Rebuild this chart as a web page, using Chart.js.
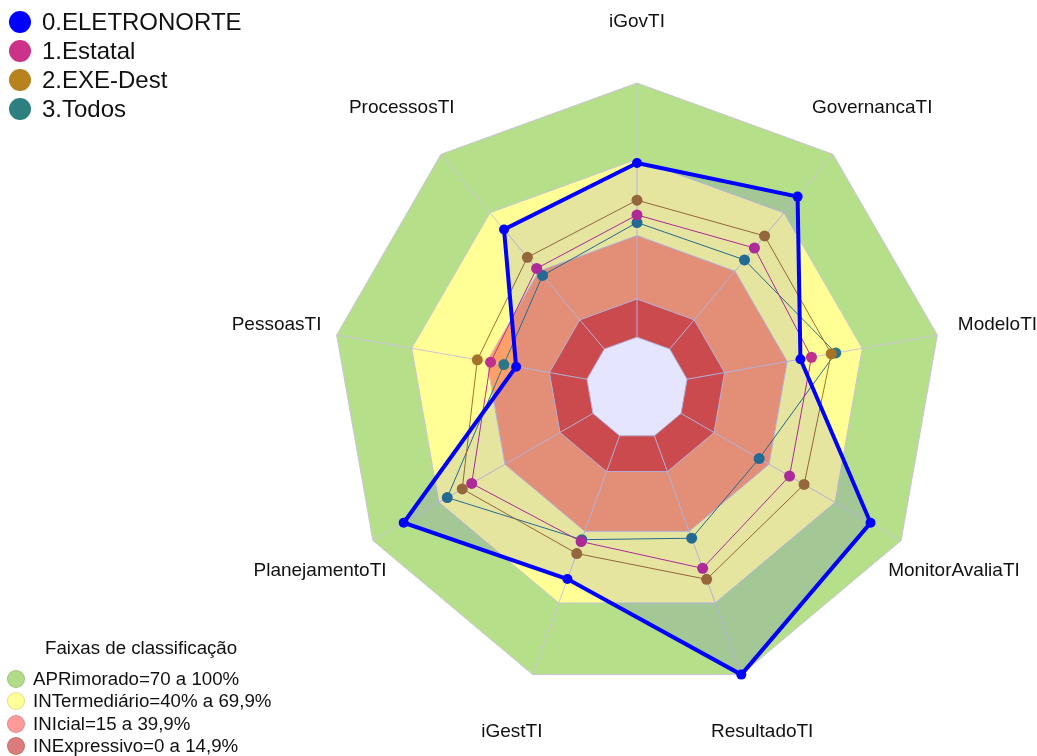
<!DOCTYPE html>
<html>
<head>
<meta charset="utf-8">
<script src="https://cdn.jsdelivr.net/npm/chart.js@4"></script>
<style>
  html, body { margin: 0; padding: 0; background: #fff; }
  body { width: 1037px; height: 756px; position: relative; overflow: hidden;
         font-family: "Liberation Sans", Arial, sans-serif; color: #111; }
  #radar { position: absolute; left: 0; top: 0; }
  .leg { position: absolute; left: 0; top: 0; }
  .row { position: absolute; display: flex; align-items: center; white-space: nowrap; }
  .dot { border-radius: 50%; flex: none; }
  #series .row { left: 9px; font-size: 24px; height: 29px; }
  #series .dot { width: 22px; height: 22px; margin-right: 11px; }
  #bands .row { left: 7px; font-size: 18.7px; height: 23px; }
  #bands .dot { width: 18px; height: 18px; margin-right: 8px; box-sizing: border-box; border: 1px solid rgba(0,0,0,0.12); }
  #bandTitle { position: absolute; left: 45px; top: 637px; font-size: 18.7px; white-space: nowrap; }
</style>
</head>
<body>
<canvas id="radar" width="1037" height="756"></canvas>
<div class="leg" id="series"></div>
<div class="leg" id="bands"><div id="bandTitle">Faixas de classificação</div></div>
<script>
// axes, clockwise from the top
const axisLabels = ['iGovTI', 'GovernancaTI', 'ModeloTI', 'MonitorAvaliaTI', 'ResultadoTI',
                    'iGestTI', 'PlanejamentoTI', 'PessoasTI', 'ProcessosTI'];

// series values (%)
const eletronorte = [68.5, 78.3, 45.3, 86.1, 100, 60.0, 86.0, 28.3, 61.4];
const estatal     = [48.1, 51.9, 49.7, 49.3, 55.5, 44.3, 55.1, 38.5, 41.4];
const exeDest     = [53.9, 58.1, 57.6, 55.9, 60.1, 49.3, 59.4, 43.8, 47.1];
const todos       = [45.1, 45.8, 59.4, 35.5, 42.9, 43.5, 66.2, 33.2, 37.8];

const seriesNames = ['0.ELETRONORTE', '1.Estatal', '2.EXE-Dest', '3.Todos'];

// classification bands (upper limit of each band, innermost last)
const bandLimits = [0, 15, 40, 70, 100];
const bandNames = ['APRimorado=70 a 100%', 'INTermediário=40% a 69,9%', 'INIcial=15 a 39,9%', 'INExpressivo=0 a 14,9%'];

const seriesColors = ['#0000ff', '#c0308e', '#a57328', '#2a7687'];
const seriesLegendColors = ['#0000ff', '#cc3388', '#b8821e', '#2e8080'];
const bandFill = ['#ffffff', '#e2533a', '#fd9f68', '#ffff96', '#b6df8a'];
const bandLegendColors = ['#b3dc88', '#ffff99', '#ff9a9a', '#dc7c7c'];
const gridColor = '#c9c5d6';

function seriesDataset(i, data) {
  const main = i === 0;
  return {
    label: seriesNames[i],
    data: data,
    borderColor: seriesColors[i],
    backgroundColor: main ? 'rgba(0,0,255,0.1)' : 'transparent',
    fill: main ? 'start' : false,
    borderWidth: main ? 4 : 1,
    pointRadius: main ? 5 : 5.5,
    pointBackgroundColor: seriesColors[i],
    pointBorderWidth: 0,
  };
}

// bands listed innermost first so the widest one is painted first (at the bottom)
const bandDatasets = bandLimits.map((v, k) => ({
  label: 'band' + v,
  data: axisLabels.map(() => v),
  borderColor: gridColor,
  borderWidth: 1,
  backgroundColor: bandFill[k],
  fill: 'start',
  pointRadius: 0,
}));

const HOLE_INDEX = 4; // dataset index of the value-0 band, drawn last among bands

// radial grid lines from 0 to 100, between the bands and the series
const spokes = {
  id: 'spokes',
  afterDatasetDraw(chart, args) {
    if (args.index !== HOLE_INDEX) return;
    const s = chart.scales.r;
    const ctx = chart.ctx;
    ctx.save();
    ctx.strokeStyle = gridColor;
    ctx.lineWidth = 1;
    for (let i = 0; i < axisLabels.length; i++) {
      const a = s.getPointPositionForValue(i, 0);
      const b = s.getPointPositionForValue(i, 100);
      ctx.beginPath();
      ctx.moveTo(a.x, a.y);
      ctx.lineTo(b.x, b.y);
      ctx.stroke();
    }
    ctx.restore();
  }
};

// axis names centred a fixed distance beyond the outer band
const axisNames = {
  id: 'axisNames',
  afterDraw(chart) {
    const s = chart.scales.r;
    const ctx = chart.ctx;
    ctx.save();
    ctx.font = '19px "Liberation Sans", Arial, sans-serif';
    ctx.fillStyle = '#111';
    ctx.textAlign = 'center';
    ctx.textBaseline = 'middle';
    axisLabels.forEach((name, i) => {
      const p = s.getPointPosition(i, s.drawingArea * 1.2);
      ctx.fillText(name, p.x, p.y);
    });
    ctx.restore();
  }
};

new Chart(document.getElementById('radar'), {
  type: 'radar',
  data: {
    labels: axisLabels,
    datasets: [
      seriesDataset(0, eletronorte),
      seriesDataset(1, estatal),
      seriesDataset(2, exeDest),
      seriesDataset(3, todos),
      ...bandDatasets,
    ]
  },
  options: {
    responsive: false,
    devicePixelRatio: 1,
    animation: false,
    layout: { padding: { left: 332, right: 95, top: 83, bottom: 63 } },
    elements: { line: { tension: 0 } },
    plugins: { legend: { display: false }, tooltip: { enabled: false } },
    scales: {
      r: {
        min: -20,
        max: 100,
        ticks: { display: false },
        grid: { display: false },
        angleLines: { display: false },
        pointLabels: { display: false },
      }
    }
  },
  plugins: [spokes, axisNames]
});

// legends
const seriesBox = document.getElementById('series');
seriesNames.forEach((name, i) => {
  const row = document.createElement('div');
  row.className = 'row';
  row.style.top = (7 + i * 29) + 'px';
  row.innerHTML = '<span class="dot" style="background:' + seriesLegendColors[i] + '"></span><span>' + name + '</span>';
  seriesBox.appendChild(row);
});
const bandBox = document.getElementById('bands');
bandNames.forEach((name, i) => {
  const row = document.createElement('div');
  row.className = 'row';
  row.style.top = (667 + i * 22.6) + 'px';
  row.innerHTML = '<span class="dot" style="background:' + bandLegendColors[i] + '"></span><span>' + name + '</span>';
  bandBox.appendChild(row);
});
</script>
</body>
</html>
